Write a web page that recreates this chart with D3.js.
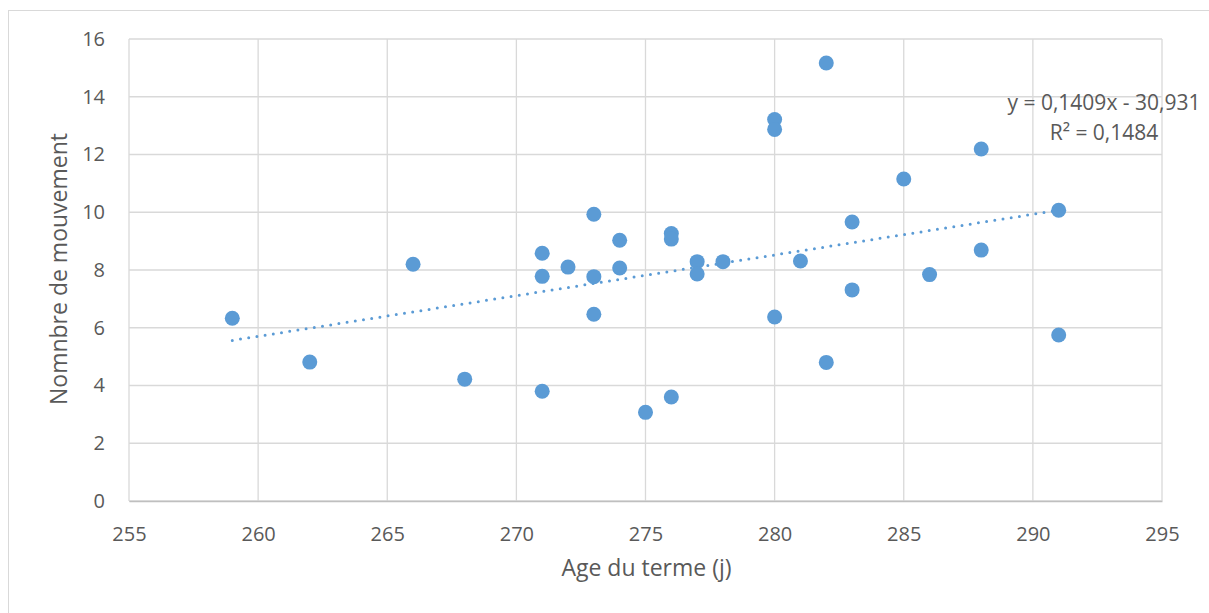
<!DOCTYPE html>
<html>
<head>
<meta charset="utf-8">
<script src="https://cdn.jsdelivr.net/npm/d3@7"></script>
<style>
  html, body { margin: 0; padding: 0; background: #fff; }
  svg { display: block; }
  text { font-family: "Open Sans", "Liberation Sans", sans-serif; fill: #595959; }
</style>
</head>
<body>
<svg id="chart" width="1209" height="613"></svg>
<script>
// Gestational age at term (days) and number of movements
const ageJours = [259, 262, 266, 268, 271, 271, 271, 272, 273, 273, 273, 274, 274, 275, 276, 276, 276,
                  277, 277, 278, 280, 280, 280, 281, 282, 282, 283, 283, 285, 286, 288, 288, 291, 291];
const mouvements = [6.33, 4.81, 8.2, 4.22, 8.58, 7.78, 3.8, 8.1, 9.93, 7.77, 6.47, 9.03, 8.07, 3.07, 9.26, 9.07, 3.6,
                    8.29, 7.86, 8.29, 13.21, 12.87, 6.37, 8.31, 15.17, 4.8, 9.66, 7.31, 11.15, 7.84, 12.19, 8.69, 10.07, 5.75];

// Linear trend (least squares) shown on the chart
const pente = 0.1409;
const ordonnee = -30.931;
const r2 = 0.1484;

const xTicks = [255, 260, 265, 270, 275, 280, 285, 290, 295];
const yTicks = [0, 2, 4, 6, 8, 10, 12, 14, 16];

const svg = d3.select("#chart");
const plot = { left: 129, right: 1162, top: 39, bottom: 501 };

const x = d3.scaleLinear().domain([255, 295]).range([plot.left, plot.right]);
const y = d3.scaleLinear().domain([0, 16]).range([plot.bottom, plot.top]);

// chart area border
svg.append("rect")
  .attr("x", 8.5).attr("y", 10.5)
  .attr("width", 1220).attr("height", 620)
  .attr("fill", "none").attr("stroke", "#D9D9D9").attr("stroke-width", 1);

// gridlines
const grid = svg.append("g");
grid.selectAll("line.v").data(xTicks).join("line")
  .attr("x1", d => x(d)).attr("x2", d => x(d))
  .attr("y1", plot.top).attr("y2", plot.bottom)
  .attr("stroke", "#D9D9D9").attr("stroke-width", 1.3);
grid.selectAll("line.h").data(yTicks).join("line")
  .attr("x1", plot.left).attr("x2", plot.right)
  .attr("y1", d => y(d)).attr("y2", d => y(d))
  .attr("stroke", "#D9D9D9").attr("stroke-width", 1.3);

// axes (labels only; lines come from the grid)
const xAxis = d3.axisBottom(x).tickValues(xTicks).tickSize(0).tickPadding(0);
const gx = svg.append("g").attr("transform", `translate(0,${plot.bottom})`).call(xAxis);
gx.select(".domain").attr("stroke", "#BFBFBF").attr("stroke-width", 1.3);
gx.selectAll("text").attr("font-size", 20).attr("y", 40).attr("dy", 0).style("fill", "#595959")
  .style("font-family", "'Open Sans', sans-serif");

const yAxis = d3.axisLeft(y).tickValues(yTicks).tickSize(0).tickPadding(24);
const gy = svg.append("g").attr("transform", `translate(${plot.left},0)`).call(yAxis);
gy.select(".domain").remove();
gy.selectAll("text").attr("font-size", 20).style("fill", "#595959")
  .style("font-family", "'Open Sans', sans-serif");

// trendline
const xs = d3.extent(ageJours);
const trend = xs.map(v => [v, pente * v + ordonnee]);
svg.append("path")
  .datum(trend)
  .attr("d", d3.line().x(d => x(d[0])).y(d => y(d[1])))
  .attr("fill", "none")
  .attr("stroke", "#5B9BD5")
  .attr("stroke-width", 3)
  .attr("stroke-linecap", "round")
  .attr("stroke-dasharray", "0 8.3");

// points
svg.append("g").selectAll("circle")
  .data(ageJours.map((a, i) => [a, mouvements[i]]))
  .join("circle")
  .attr("cx", d => x(d[0]))
  .attr("cy", d => y(d[1]))
  .attr("r", 7.5)
  .attr("fill", "#5B9BD5");

// equation label
const fmt = v => String(v).replace(".", ",");
const eq = svg.append("text")
  .attr("text-anchor", "middle")
  .attr("font-size", 21);
eq.append("tspan").attr("x", 1104).attr("y", 110)
  .text(`y = ${fmt(pente)}x - ${fmt(Math.abs(ordonnee))}`);
eq.append("tspan").attr("x", 1104).attr("y", 140)
  .text(`R² = ${fmt(r2)}`);

// axis titles
svg.append("text")
  .attr("x", (plot.left + plot.right) / 2 + 1).attr("y", 576)
  .attr("text-anchor", "middle")
  .attr("font-size", 23)
  .text("Age du terme (j)");

svg.append("text")
  .attr("transform", `translate(67,269) rotate(-90)`)
  .attr("text-anchor", "middle")
  .attr("font-size", 23)
  .text("Nomnbre de mouvement");
</script>
</body>
</html>
